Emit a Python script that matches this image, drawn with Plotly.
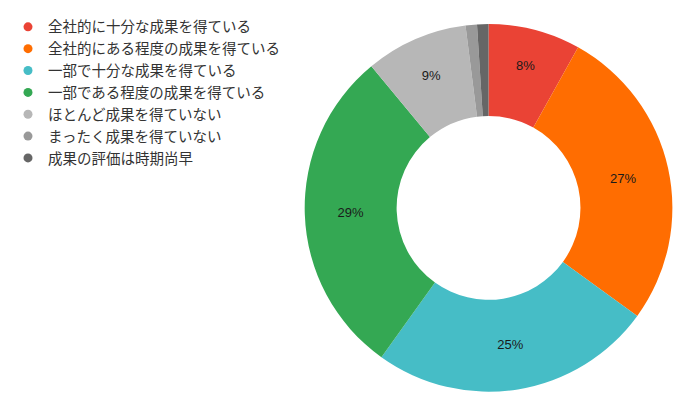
import plotly.graph_objects as go

# 回答の内訳（％）
labels = [
    '全社的に十分な成果を得ている',
    '全社的にある程度の成果を得ている',
    '一部で十分な成果を得ている',
    '一部である程度の成果を得ている',
    'ほとんど成果を得ていない',
    'まったく成果を得ていない',
    '成果の評価は時期尚早',
]
values = [8.1, 26.9, 24.9, 29.1, 9.0, 1.0, 1.0]
colors = ['#ea4335', '#ff6d01', '#46bdc6', '#34a853', '#b7b7b7', '#999999', '#666666']

font_family = 'Noto Sans CJK JP, Noto Sans, sans-serif'

# small slices get no label
texts = ['%{percent:.0%}' if v >= 3 else '' for v in values]

fig = go.Figure()
fig.add_trace(go.Pie(
    labels=labels,
    values=values,
    hole=0.5,
    sort=False,
    direction='clockwise',
    rotation=0,
    marker=dict(colors=colors, line=dict(width=0)),
    texttemplate=texts,
    textposition='inside',
    insidetextorientation='horizontal',
    textfont=dict(size=13, color='#1a1a1a', family='Arial, Liberation Sans, sans-serif'),
    showlegend=False,
    domain=dict(x=[0.415, 0.951], y=[0.070, 0.969]),
))

# legend entries with round markers
for lab, col in zip(labels, colors):
    fig.add_trace(go.Scatter(
        x=[None], y=[None], mode='markers', name=lab,
        marker=dict(symbol='circle', size=9, color=col),
    ))

fig.update_layout(
    width=698, height=416,
    margin=dict(l=0, r=0, t=0, b=0),
    paper_bgcolor='white', plot_bgcolor='white',
    xaxis=dict(visible=False), yaxis=dict(visible=False),
    font=dict(family=font_family, color='#333333'),
    legend=dict(
        x=-0.018, y=0.993, xanchor='left', yanchor='top',
        font=dict(size=14.5, color='#333333', family=font_family),
        itemwidth=30, tracegroupgap=0,
        bgcolor='rgba(0,0,0,0)',
    ),
)

fig.write_html('out.html')
